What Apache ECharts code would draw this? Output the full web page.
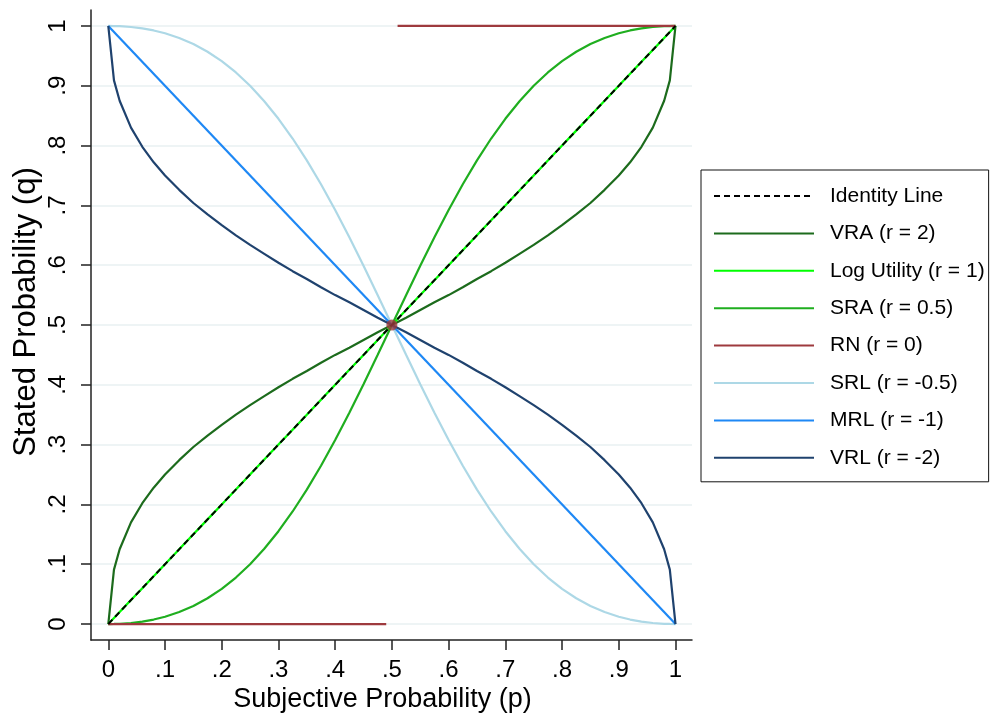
<!DOCTYPE html>
<html>
<head>
<meta charset="utf-8">
<script src="https://cdn.jsdelivr.net/npm/echarts@6/dist/echarts.min.js"></script>
<style>
  html, body { margin: 0; padding: 0; background: #fff; }
  #chart { width: 990px; height: 718px; }
</style>
</head>
<body>
<div id="chart"></div>
<script>
// subjective probability p (x), stated probability q (y)
const pVals = [0, 0.01, 0.02, 0.04, 0.06, 0.08, 0.1, 0.125, 0.15, 0.175, 0.2, 0.225, 0.25, 0.275, 0.3, 0.325, 0.35, 0.375, 0.4, 0.425, 0.45, 0.475, 0.5,
  0.525, 0.55, 0.575, 0.6, 0.625, 0.65, 0.675, 0.7, 0.725, 0.75, 0.775, 0.8, 0.825, 0.85, 0.875, 0.9, 0.92, 0.94, 0.96, 0.98, 0.99, 1];

const vraQ = [0, 0.091, 0.125, 0.170, 0.202, 0.228, 0.25, 0.274, 0.296, 0.315, 0.333, 0.350, 0.366, 0.381, 0.396, 0.410, 0.423, 0.437, 0.450, 0.462, 0.475, 0.488, 0.5,
  0.512, 0.525, 0.538, 0.550, 0.563, 0.577, 0.590, 0.604, 0.619, 0.634, 0.650, 0.667, 0.685, 0.704, 0.726, 0.75, 0.772, 0.798, 0.830, 0.875, 0.909, 1];

const logQ = [0, 0.01, 0.02, 0.04, 0.06, 0.08, 0.1, 0.125, 0.15, 0.175, 0.2, 0.225, 0.25, 0.275, 0.3, 0.325, 0.35, 0.375, 0.4, 0.425, 0.45, 0.475, 0.5,
  0.525, 0.55, 0.575, 0.6, 0.625, 0.65, 0.675, 0.7, 0.725, 0.75, 0.775, 0.8, 0.825, 0.85, 0.875, 0.9, 0.92, 0.94, 0.96, 0.98, 0.99, 1];

const sraQ = [0, 0.0001, 0.0004, 0.0017, 0.0041, 0.0075, 0.0122, 0.02, 0.0302, 0.0431, 0.0588, 0.0777, 0.1, 0.1258, 0.1552, 0.1882, 0.2248, 0.2647, 0.3077, 0.3533, 0.401, 0.4501, 0.5,
  0.5499, 0.599, 0.6467, 0.6923, 0.7353, 0.7752, 0.8118, 0.8448, 0.8742, 0.9, 0.9223, 0.9412, 0.9569, 0.9698, 0.98, 0.9878, 0.9925, 0.9959, 0.9983, 0.9996, 0.9999, 1];

const srlQ = [1, 0.9999, 0.9996, 0.9983, 0.9959, 0.9925, 0.9878, 0.98, 0.9698, 0.9569, 0.9412, 0.9223, 0.9, 0.8742, 0.8448, 0.8118, 0.7752, 0.7353, 0.6923, 0.6467, 0.599, 0.5499, 0.5,
  0.4501, 0.401, 0.3533, 0.3077, 0.2647, 0.2248, 0.1882, 0.1552, 0.1258, 0.1, 0.0777, 0.0588, 0.0431, 0.0302, 0.02, 0.0122, 0.0075, 0.0041, 0.0017, 0.0004, 0.0001, 0];

const vrlQ = [1, 0.909, 0.875, 0.830, 0.798, 0.772, 0.75, 0.726, 0.704, 0.685, 0.667, 0.650, 0.634, 0.619, 0.604, 0.590, 0.577, 0.563, 0.550, 0.538, 0.525, 0.512, 0.5,
  0.488, 0.475, 0.462, 0.450, 0.437, 0.423, 0.410, 0.396, 0.381, 0.366, 0.350, 0.333, 0.315, 0.296, 0.274, 0.25, 0.228, 0.202, 0.170, 0.125, 0.091, 0];

const lineP = [0, 1];
const identityQ = [0, 1];
const mrlQ = [1, 0];

// risk neutral: corner reports, with the point at p = .5
const rnP = [0, 0.49, 0.5, 0.51, 1];
const rnQ = [0, 0, null, 1, 1];
const rnPoint = [0.5, 0.5];

const tickVals = [0, 0.1, 0.2, 0.3, 0.4, 0.5, 0.6, 0.7, 0.8, 0.9, 1];
const tickText = ['0', '.1', '.2', '.3', '.4', '.5', '.6', '.7', '.8', '.9', '1'];

const legendNames = ['Identity Line', 'VRA (r = 2)', 'Log Utility (r = 1)', 'SRA (r = 0.5)', 'RN (r = 0)', 'SRL (r = -0.5)', 'MRL (r = -1)', 'VRL (r = -2)'];

function pairs(xs, ys) {
  return xs.map((x, i) => [x, ys[i]]);
}

const font = "'Liberation Sans', Arial, sans-serif";

function tickLabel(v) {
  const i = tickVals.findIndex(t => Math.abs(t - v) < 1e-6);
  return i >= 0 ? tickText[i] : '';
}

function curve(name, xs, ys, color, extra) {
  return Object.assign({
    name: name,
    type: 'line',
    data: pairs(xs, ys),
    showSymbol: false,
    symbol: 'none',
    clip: false,
    connectNulls: false,
    lineStyle: { color: color, width: 2.2 },
    itemStyle: { color: color },
    z: 3
  }, extra || {});
}

const axisCommon = {
  type: 'value',
  axisLine: { show: true, onZero: false, lineStyle: { color: '#222', width: 1.5 } },
  axisTick: { show: true, length: 10, customValues: tickVals, lineStyle: { color: '#222', width: 1.5 } },
  axisLabel: { customValues: tickVals, formatter: tickLabel, color: '#000', fontSize: 24, fontFamily: font },
  nameLocation: 'middle',
  nameMoveOverlap: false,
  nameTextStyle: { color: '#000', fontSize: 27, fontFamily: font }
};

const chart = echarts.init(document.getElementById('chart'), null, { renderer: 'canvas' });

const option = {
  animation: false,
  backgroundColor: '#fff',
  textStyle: { fontFamily: font },
  grid: { left: 91, right: 298, top: 10, bottom: 76 },
  xAxis: Object.assign({}, axisCommon, {
    min: -0.0305,
    max: 1.0291,
    name: 'Subjective Probability (p)',
    nameGap: 46,
    nameTextStyle: Object.assign({}, axisCommon.nameTextStyle, { padding: [0, 18, 0, 0] }),
    axisLabel: Object.assign({}, axisCommon.axisLabel, { margin: 18 }),
    splitLine: { show: false }
  }),
  yAxis: Object.assign({}, axisCommon, {
    min: -0.0267,
    max: 1.0267,
    name: 'Stated Probability (q)',
    nameGap: 49,
    nameTextStyle: Object.assign({}, axisCommon.nameTextStyle, { fontSize: 31, padding: [0, 0, 0, 26] }),
    axisLabel: Object.assign({}, axisCommon.axisLabel, { rotate: 90, margin: 21 }),
    splitLine: { show: true, lineStyle: { color: '#e8f0f2', width: 1.5 } }
  }),
  legend: {
    orient: 'vertical',
    left: 701,
    top: 170,
    data: legendNames,
    itemWidth: 100,
    itemHeight: 14,
    itemGap: 13.4,
    padding: [14, 4, 12, 12],
    borderColor: '#111',
    borderWidth: 1,
    itemStyle: { opacity: 0 },
    textStyle: { color: '#000', fontSize: 21, fontFamily: font, lineHeight: 24, padding: [0, 0, 0, 11] }
  },
  series: [
    curve('VRA (r = 2)', pVals, vraQ, '#1c6b1c'),
    curve('Log Utility (r = 1)', pVals, logQ, '#00ff00'),
    curve('SRA (r = 0.5)', pVals, sraQ, '#1fae1f'),
    curve('RN (r = 0)', rnP, rnQ, '#9e3a3e'),
    curve('SRL (r = -0.5)', pVals, srlQ, '#add8e6'),
    curve('MRL (r = -1)', lineP, mrlQ, '#1e88f5'),
    curve('VRL (r = -2)', pVals, vrlQ, '#1f426e'),
    curve('Identity Line', lineP, identityQ, '#000', {
      lineStyle: { color: '#000', width: 2, type: [6, 4] },
      z: 4
    }),
    {
      name: 'RN point',
      type: 'scatter',
      data: [rnPoint],
      symbolSize: 11,
      itemStyle: { color: '#9e3a3e' },
      z: 5
    }
  ]
};

window.addEventListener('resize', function () {
  chart.resize();
});

option && chart.setOption(option);
</script>
</body>
</html>
